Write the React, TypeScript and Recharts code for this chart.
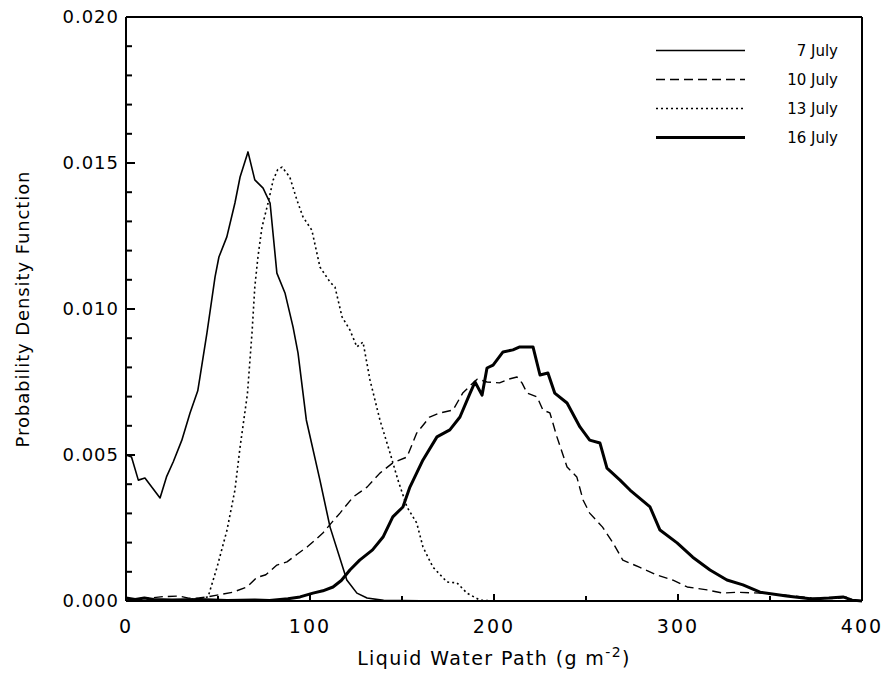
import React from "react";
import { LineChart, Line, XAxis, YAxis, Legend } from "recharts";

// [liquid water path, pdf] pairs
const july7: [number, number][] = [
  [0, 0.005], [3, 0.00493], [6.7, 0.00414], [10.3, 0.00421], [18.5, 0.00353], [22, 0.00425],
  [25.7, 0.00477], [30.3, 0.0055], [34.8, 0.00644], [39, 0.0072], [40.2, 0.00767], [44, 0.00918],
  [48.4, 0.0111], [50.5, 0.01178], [54.8, 0.01247], [59.2, 0.01363], [62, 0.01452], [66.3, 0.01538],
  [70, 0.01442], [74.5, 0.01414], [78.3, 0.01363], [82, 0.01123], [86.4, 0.01055], [90.8, 0.00938],
  [93.5, 0.00849], [96.2, 0.00712], [98, 0.0062], [105.4, 0.00414], [110.9, 0.00253], [120, 0.00072],
  [125.5, 0.00027], [131, 0.0001], [140, 0.00002], [170, 0], [200, 0],
];

const july10: [number, number][] = [
  [0, 0.00003], [6, 0.00008], [13, 0.0001], [20, 0.00015], [29, 0.00017], [34, 0.0001], [38.6, 0.0001],
  [44, 0.00014], [49.5, 0.0002], [58, 0.0003], [65.8, 0.00048], [71, 0.0008], [76, 0.0009], [82, 0.00123],
  [87.5, 0.00134], [93, 0.0016], [98.4, 0.00185], [103, 0.0021], [107, 0.00233], [112, 0.0027],
  [116.3, 0.00301], [123.4, 0.00356], [131, 0.0039], [138, 0.00438], [145, 0.00473], [152.7, 0.00493],
  [158, 0.00575], [165, 0.0063], [170.6, 0.00644], [177.7, 0.00654], [183, 0.00712], [188.6, 0.00747],
  [191, 0.0076], [196.2, 0.0075], [203, 0.00747], [208, 0.0076], [212.5, 0.00767], [215.2, 0.00747],
  [218, 0.00712], [223.4, 0.00699], [226.6, 0.00654], [230.4, 0.00644], [234.2, 0.00562], [239.7, 0.00459],
  [245, 0.00425], [248.4, 0.00346], [252, 0.00301], [259, 0.00253], [264.7, 0.00199], [270, 0.0014],
  [279, 0.00116], [288.6, 0.00089], [297, 0.00072], [305, 0.00048], [315.8, 0.00038], [324.5, 0.00027],
  [332, 0.0003], [344.6, 0.00027], [359, 0.0002], [373, 0.0001], [385, 0.00008], [392, 0.00014],
  [395, 0.00003], [400, 0],
];

const july13: [number, number][] = [
  [0, 0], [20, 0.00002], [35, 0.00005], [44.6, 0.00014], [49.5, 0.00116], [54.9, 0.00243], [59.2, 0.0038],
  [62, 0.00527], [66, 0.0071], [68.5, 0.0092], [70, 0.01075], [71.7, 0.01178], [73.9, 0.0128],
  [77.2, 0.01363], [80, 0.01442], [82.5, 0.01478], [84.8, 0.01486], [89, 0.01452], [92.9, 0.01373],
  [96.2, 0.01315], [101, 0.0127], [105.4, 0.01144], [110.9, 0.01092], [113.6, 0.01075], [117.4, 0.00973],
  [121.7, 0.00928], [125.5, 0.0087], [128.8, 0.00887], [132.6, 0.00757], [138, 0.0062], [143.5, 0.00507],
  [147.8, 0.00414], [152.7, 0.00322], [158, 0.00267], [161.4, 0.00185], [166.8, 0.00116], [174.5, 0.00065],
  [179.9, 0.00062], [185.3, 0.00027], [192.4, 0.00003], [200, 0],
];

const july16: [number, number][] = [
  [0, 0.0001], [5, 0.00005], [10, 0.0001], [15, 0.00005], [25, 0.00003], [40, 0.00005], [55, 0.00002],
  [70, 0.00003], [78, 0.00002], [88, 0.00008], [94.6, 0.00014], [101.6, 0.00027], [107, 0.00035],
  [112.5, 0.00048], [117, 0.0007], [121.7, 0.00106], [127, 0.0014], [134, 0.00175], [139.7, 0.00219],
  [145, 0.00288], [150.5, 0.00322], [154.3, 0.0039], [161.4, 0.00483], [169, 0.00562], [176, 0.00586],
  [181.5, 0.0063], [187, 0.00712], [189.7, 0.0075], [193.5, 0.00705], [196.2, 0.00798], [199.5, 0.00808],
  [204.9, 0.00853], [210.3, 0.0086], [214, 0.0087], [221.2, 0.0087], [225, 0.00774], [229.3, 0.00781],
  [233, 0.00712], [239.7, 0.00678], [246.7, 0.00596], [252, 0.00551], [257.6, 0.00541], [261.4, 0.00455],
  [268.5, 0.00414], [273.9, 0.0038], [284.8, 0.00322], [290.2, 0.00243], [299.5, 0.00199], [308, 0.0015],
  [317.4, 0.00106], [326.6, 0.00072], [335.3, 0.00055], [344.6, 0.0003], [359, 0.00017], [373, 0.00007],
  [382, 0.0001], [389.7, 0.00014], [394.6, 0.00003], [400, 0],
];

const xTicks = [0, 50, 100, 150, 200, 250, 300, 350, 400];
const yTicks = [
  0, 0.001, 0.002, 0.003, 0.004, 0.005, 0.006, 0.007, 0.008, 0.009, 0.01,
  0.011, 0.012, 0.013, 0.014, 0.015, 0.016, 0.017, 0.018, 0.019, 0.02,
];

const INK = "#000";
const FONT = "'DejaVu Sans', Arial, sans-serif";

const SERIES = [
  { name: "7 July", points: july7, width: 1.6, dash: undefined as string | undefined },
  { name: "10 July", points: july10, width: 1.4, dash: "9 5" },
  { name: "13 July", points: july13, width: 1.6, dash: "2 3" },
  { name: "16 July", points: july16, width: 3, dash: undefined as string | undefined },
];

const toRows = (pts: [number, number][]) => pts.map(([x, y]) => ({ x, y }));

const isMajorY = (v: number) => Math.abs(v * 200 - Math.round(v * 200)) < 1e-6;
const isMajorX = (v: number) => v % 100 === 0;

// tick marks point into the plot, labels sit outside (left / bottom only)
function LeftTick(props: any) {
  const { x, y, payload } = props;
  const major = isMajorY(payload.value);
  return (
    <g>
      <line x1={x} y1={y} x2={x + (major ? 9 : 6)} y2={y} stroke={INK} strokeWidth={2} />
      {major && (
        <text x={x - 7} y={y} dy="0.36em" textAnchor="end" fontSize={18} letterSpacing={1}
          fontFamily={FONT} fill={INK}>
          {payload.value.toFixed(3)}
        </text>
      )}
    </g>
  );
}

function RightTick(props: any) {
  const { x, y, payload } = props;
  const major = isMajorY(payload.value);
  return <line x1={x} y1={y} x2={x - (major ? 9 : 6)} y2={y} stroke={INK} strokeWidth={2} />;
}

function BottomTick(props: any) {
  const { x, y, payload } = props;
  const major = isMajorX(payload.value);
  return (
    <g>
      <line x1={x} y1={y} x2={x} y2={y - (major ? 7 : 5)} stroke={INK} strokeWidth={2} />
      {major && (
        <text x={x} y={y + 32} textAnchor="middle" fontSize={19} letterSpacing={2}
          fontFamily={FONT} fill={INK}>
          {payload.value}
        </text>
      )}
    </g>
  );
}

function TopTick(props: any) {
  const { x, y, payload } = props;
  const major = isMajorX(payload.value);
  return <line x1={x} y1={y} x2={x} y2={y + (major ? 7 : 5)} stroke={INK} strokeWidth={2} />;
}

function LegendBox() {
  return (
    <div style={{ fontFamily: FONT, fontSize: 15, color: INK, width: 182 }}>
      {SERIES.map((s) => (
        <div key={s.name} style={{ display: "flex", alignItems: "center", height: 29 }}>
          <svg width={90} height={29}>
            <line x1={0} y1={14.5} x2={89} y2={14.5} stroke={INK}
              strokeWidth={s.width} strokeDasharray={s.dash} />
          </svg>
          <span style={{ flex: 1, textAlign: "right" }}>{s.name}</span>
        </div>
      ))}
    </div>
  );
}

const axisLine = { stroke: INK, strokeWidth: 2 };

export default function App() {
  return (
    <div style={{ position: "absolute", left: 0, top: 0, width: 885, height: 680 }}>
      <LineChart width={885} height={680} margin={{ top: 15, right: 21, bottom: 49, left: 66 }}>
        <XAxis
          dataKey="x"
          type="number"
          domain={[0, 400]}
          ticks={xTicks}
          interval={0}
          height={30}
          tickSize={0}
          tickMargin={0}
          tickLine={false}
          axisLine={axisLine}
          tick={<BottomTick />}
          label={{
            content: (p: any) => {
              const vb = p.viewBox || { x: 126, y: 601, width: 736 };
              return (
                <text x={vb.x + vb.width / 2} y={vb.y + 64} textAnchor="middle" fontSize={19}
                  letterSpacing={1.4} fontFamily={FONT} fill={INK}>
                  Liquid Water Path (g m
                  <tspan dy={-8} fontSize={14}>-2</tspan>
                  <tspan dy={8}>)</tspan>
                </text>
              );
            },
          }}
        />
        <XAxis
          xAxisId="top"
          orientation="top"
          dataKey="x"
          type="number"
          domain={[0, 400]}
          ticks={xTicks}
          interval={0}
          height={2}
          tickSize={0}
          tickMargin={0}
          tickLine={false}
          axisLine={axisLine}
          tick={<TopTick />}
        />
        <YAxis
          type="number"
          domain={[0, 0.02]}
          ticks={yTicks}
          interval={0}
          width={60}
          tickSize={0}
          tickMargin={0}
          tickLine={false}
          axisLine={axisLine}
          tick={<LeftTick />}
          label={{
            content: (p: any) => {
              const vb = p.viewBox || { x: 66, y: 17, height: 584 };
              const cx = vb.x - 43;
              const cy = vb.y + vb.height / 2;
              return (
                <text x={cx} y={cy} transform={`rotate(-90 ${cx} ${cy})`} textAnchor="middle"
                  dy="0.35em" fontSize={18} letterSpacing={0.9} fontFamily={FONT} fill={INK}>
                  Probability Density Function
                </text>
              );
            },
          }}
        />
        <YAxis
          yAxisId="right"
          orientation="right"
          type="number"
          domain={[0, 0.02]}
          ticks={yTicks}
          interval={0}
          width={2}
          tickSize={0}
          tickMargin={0}
          tickLine={false}
          axisLine={axisLine}
          tick={<RightTick />}
        />
        <Legend
          layout="vertical"
          align="center"
          verticalAlign="middle"
          content={() => <LegendBox />}
          wrapperStyle={{ position: "absolute", left: 656, top: 36, width: 182, height: 116 }}
        />
        {SERIES.map((s) => (
          <Line
            key={s.name}
            name={s.name}
            data={toRows(s.points)}
            dataKey="y"
            type="linear"
            stroke={INK}
            strokeWidth={s.width}
            strokeDasharray={s.dash}
            strokeLinejoin="round"
            dot={false}
            activeDot={false}
            isAnimationActive={false}
          />
        ))}
      </LineChart>
    </div>
  );
}
